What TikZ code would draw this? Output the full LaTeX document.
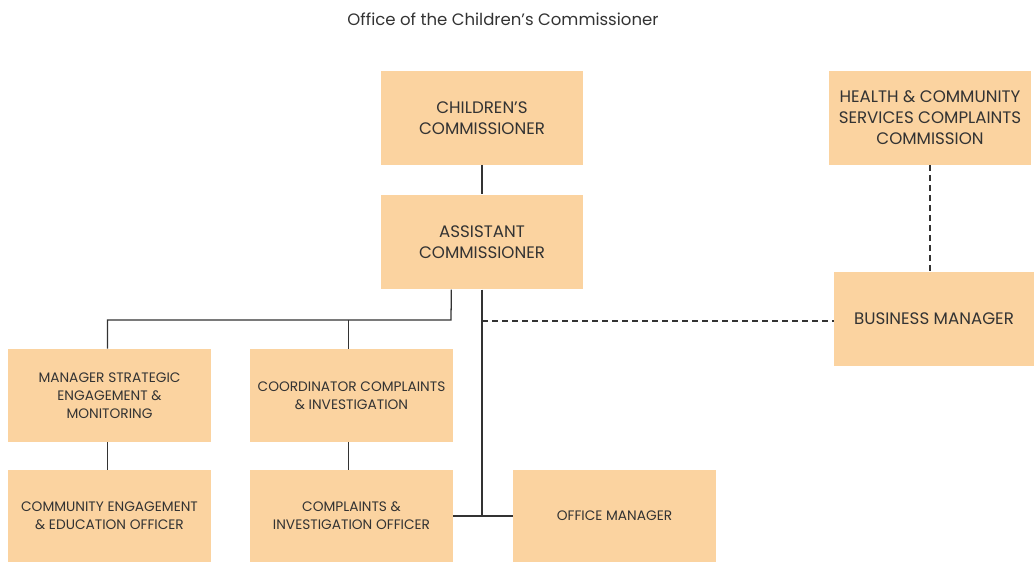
\documentclass[tikz,border=0pt]{standalone}
\usepackage{fontspec}
\setmainfont{Poppins}
\definecolor{boxfill}{RGB}{251,211,160}
\definecolor{ink}{RGB}{51,51,51}
\begin{document}
\begin{tikzpicture}[x=0.75pt,y=-0.75pt,
    post/.style={fill=boxfill,text=ink,align=center,inner sep=0pt,
        minimum width=152pt,minimum height=70pt,font=\fontsize{10.3}{13.5}\selectfont},
    bigpost/.style={post,font=\fontsize{12.5}{15.75}\selectfont},
    link/.style={draw=ink,line width=0.95pt}]
    \useasboundingbox (0,0) rectangle (1034,562);
    \node[text=ink,font=\fontsize{12.4}{14}\selectfont] (title) at (503,19) {Office of the Children’s Commissioner};
    \node[bigpost] (cc) at (482,118) {CHILDREN’S\\COMMISSIONER};
    \node[bigpost,minimum height=71pt] (ac) at (482,242) {ASSISTANT\\COMMISSIONER};
    \node[bigpost] (hc) at (930,118) {HEALTH \& COMMUNITY\\SERVICES COMPLAINTS\\COMMISSION};
    \node[bigpost,minimum width=150pt] (bm) at (934,319) {BUSINESS MANAGER};
    \node[post] (ms) at (109.5,395.5) {MANAGER STRATEGIC\\ENGAGEMENT \&\\MONITORING};
    \node[post] (co) at (351.5,395.5) {COORDINATOR COMPLAINTS\\\& INVESTIGATION};
    \node[post,minimum height=69pt] (ce) at (109.5,516) {COMMUNITY ENGAGEMENT\\\& EDUCATION OFFICER};
    \node[post,minimum height=69pt] (ci) at (351.5,516) {COMPLAINTS \&\\INVESTIGATION OFFICER};
    \node[post,minimum height=69pt] (om) at (614.5,516) {OFFICE MANAGER};
    \coordinate (j1) at (451,320);
    % solid reporting lines
    \draw[link] (cc) -- (ac);
    \draw[link] ([xshift=-23pt]ac.south) -- (j1) -| ([xshift=-1.5pt]ms.north);
    \draw[link] ([xshift=-2.5pt]co.north |- j1) -- ([xshift=-2.5pt]co.north);
    \draw[link] ([xshift=-1.5pt]ms.south) -- ([xshift=-1.5pt]ce.north);
    \draw[link] ([xshift=-2pt]co.south) -- ([xshift=-2pt]ci.north);
    \draw[link] (ac.south) -- (ac.south |- om.west);
    \draw[link] (ci.east) -- (om.west);
    % dashed links
    \draw[link,dash pattern=on 4.5pt off 3pt] (ac.south |- 0,321) -- (bm.west |- 0,321);
    \draw[link,dash pattern=on 4.5pt off 3pt] (hc.south) -- (hc.south |- bm.north);
\end{tikzpicture}
\end{document}
